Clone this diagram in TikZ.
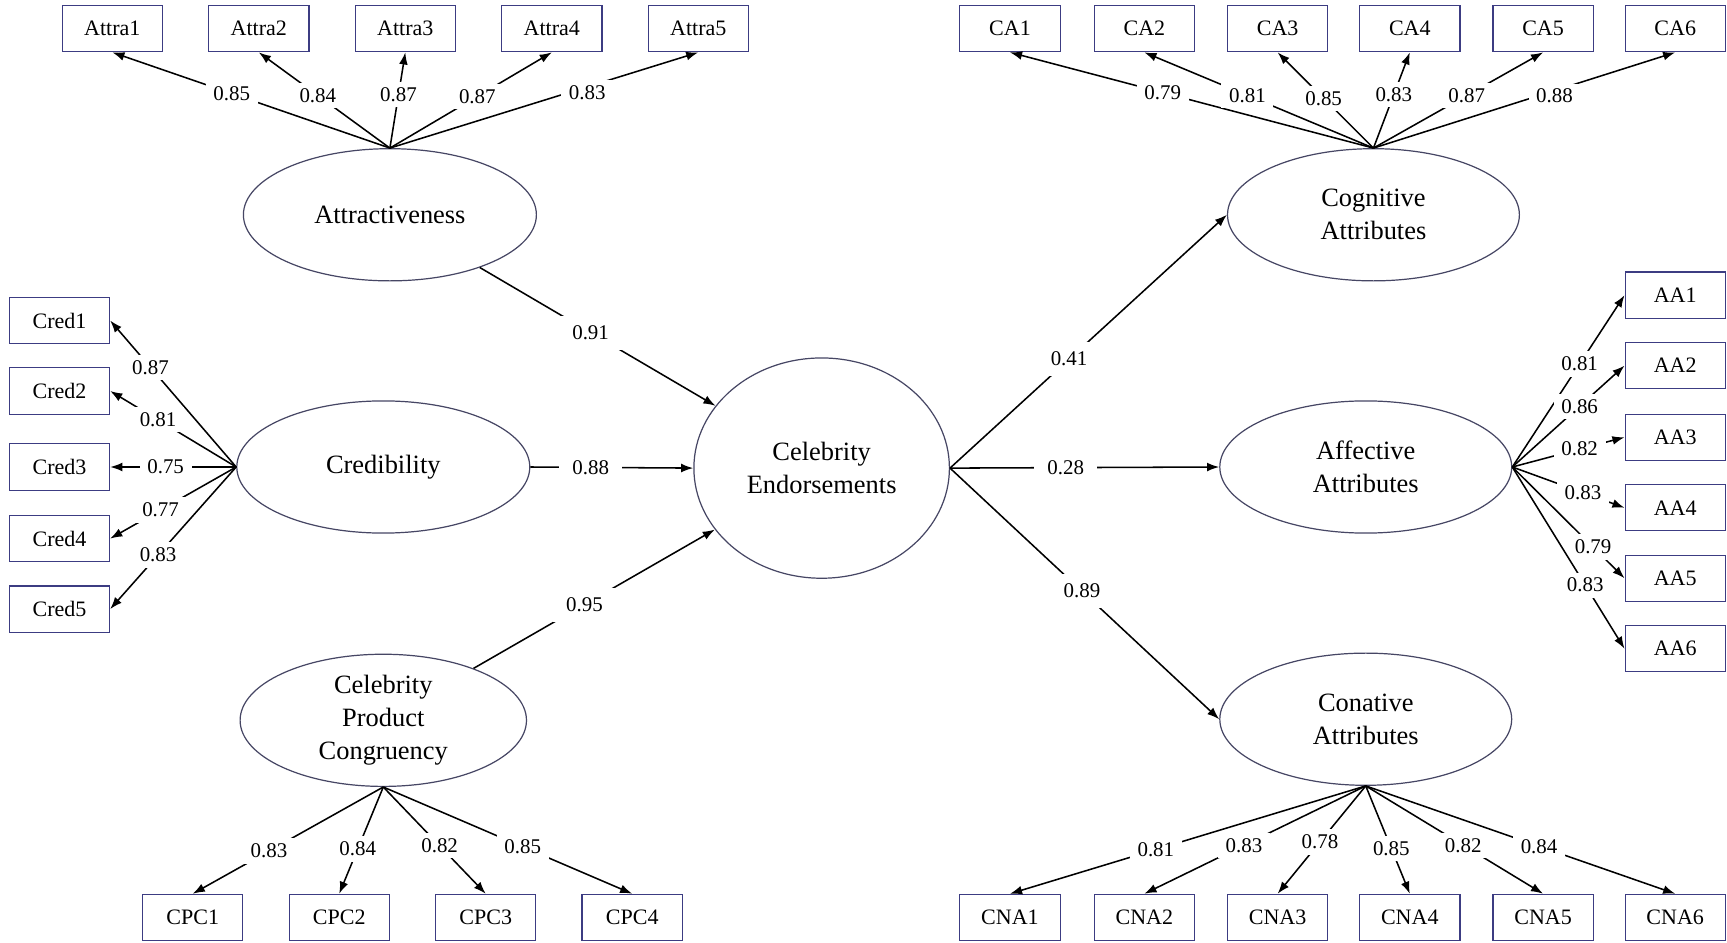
\documentclass[tikz,border=0pt]{standalone}
\usepackage{fontspec}
\setmainfont{Liberation Serif}
\usetikzlibrary{shapes.geometric,arrows.meta}
\definecolor{boxc}{RGB}{60,60,130}
\definecolor{ellc}{RGB}{70,70,100}
\begin{document}
\begin{tikzpicture}[x=1pt,y=-1pt,
 lat/.style={ellipse, draw=ellc, line width=1.1pt, inner sep=0pt, align=center, font=\fontsize{24}{30}\selectfont},
 ind/.style={rectangle, draw=boxc, line width=1.1pt, minimum width=91pt, minimum height=42pt, inner sep=0pt, font=\fontsize{20}{24}\selectfont},
 lbl/.style={fill=white, inner xsep=7pt, inner ysep=5pt, font=\fontsize{19}{22}\selectfont},
 lblw/.style={lbl, inner xsep=12pt, inner ysep=9pt},
 arr/.style={line width=1.4pt, -{Latex[length=11pt,width=8pt]}},
]
\useasboundingbox[fill=white] (0,0) rectangle (1568,856);

% latent variables
\node[lat, minimum width=266pt, minimum height=120pt] (attr) at (354,195) {Attractiveness};
\node[lat, minimum width=266pt, minimum height=120pt] (cred) at (348,424) {Credibility};
\node[lat, minimum width=260pt, minimum height=120pt] (cpc) at (348,654) {Celebrity\\Product\\Congruency};
\node[lat, minimum width=232pt, minimum height=200pt] (ce) at (746,425) {Celebrity\\Endorsements};
\node[lat, minimum width=265pt, minimum height=120pt] (cog) at (1247,195) {Cognitive\\Attributes};
\node[lat, minimum width=265pt, minimum height=120pt] (aff) at (1240,424) {Affective\\Attributes};
\node[lat, minimum width=265pt, minimum height=120pt] (con) at (1240,653) {Conative\\Attributes};

% indicators: attractiveness
\node[ind] (a1) at (102,26) {Attra1};
\node[ind] (a2) at (235,26) {Attra2};
\node[ind] (a3) at (368,26) {Attra3};
\node[ind] (a4) at (501,26) {Attra4};
\node[ind] (a5) at (634,26) {Attra5};
% cognitive
\node[ind] (ca1) at (917,26) {CA1};
\node[ind] (ca2) at (1039,26) {CA2};
\node[ind] (ca3) at (1160,26) {CA3};
\node[ind] (ca4) at (1280,26) {CA4};
\node[ind] (ca5) at (1401,26) {CA5};
\node[ind] (ca6) at (1521,26) {CA6};
% credibility
\node[ind] (c1) at (54,291) {Cred1};
\node[ind] (c2) at (54,355) {Cred2};
\node[ind] (c3) at (54,424) {Cred3};
\node[ind] (c4) at (54,489) {Cred4};
\node[ind] (c5) at (54,553) {Cred5};
% affective
\node[ind] (aa1) at (1521,268) {AA1};
\node[ind] (aa2) at (1521,332) {AA2};
\node[ind] (aa3) at (1521,397) {AA3};
\node[ind] (aa4) at (1521,461) {AA4};
\node[ind] (aa5) at (1521,525) {AA5};
\node[ind] (aa6) at (1521,589) {AA6};
% CPC
\node[ind] (p1) at (175,833) {CPC1};
\node[ind] (p2) at (308,833) {CPC2};
\node[ind] (p3) at (441,833) {CPC3};
\node[ind] (p4) at (574,833) {CPC4};
% conative
\node[ind] (n1) at (917,833) {CNA1};
\node[ind] (n2) at (1039,833) {CNA2};
\node[ind] (n3) at (1160,833) {CNA3};
\node[ind] (n4) at (1280,833) {CNA4};
\node[ind] (n5) at (1401,833) {CNA5};
\node[ind] (n6) at (1521,833) {CNA6};

% loadings: attractiveness
\draw[arr] (attr.north) -- (a1.south) node[lbl,pos=.57] {0.85};
\draw[arr] (attr.north) -- (a2.south) node[lbl,pos=.55] {0.84};
\draw[arr] (attr.north) -- (a3.south) node[lbl,pos=.56] {0.87};
\draw[arr] (attr.north) -- (a4.south) node[lbl,pos=.54] {0.87};
\draw[arr] (attr.north) -- (a5.south) node[lbl,pos=.64,yshift=-5pt] {0.83};
% cognitive
\draw[arr] (cog.north) -- (ca1.south) node[lbl,pos=.58] {0.79};
\draw[arr] (cog.north) -- (ca2.south) node[lbl,pos=.55] {0.81};
\draw[arr] (cog.north) -- (ca3.south) node[lbl,pos=.52] {0.85};
\draw[arr] (cog.north) -- (ca4.south) node[lbl,pos=.56] {0.83};
\draw[arr] (cog.north) -- (ca5.south) node[lbl,pos=.55] {0.87};
\draw[arr] (cog.north) -- (ca6.south) node[lbl,pos=.6,yshift=-5pt] {0.88};
% credibility
\draw[arr] (cred.west) -- (c1.east) node[lbl,pos=.68] {0.87};
\draw[arr] (cred.west) -- (c2.east) node[lbl,pos=.62] {0.81};
\draw[arr] (cred.west) -- (c3.east) node[lbl,pos=.56] {0.75};
\draw[arr] (cred.west) -- (c4.east) node[lbl,pos=.6] {0.77};
\draw[arr] (cred.west) -- (c5.east) node[lbl,pos=.62] {0.83};
% affective
\draw[arr] (aff.east) -- (aa1.west) node[lbl,pos=.6] {0.81};
\draw[arr] (aff.east) -- (aa2.west) node[lbl,pos=.6] {0.86};
\draw[arr] (aff.east) -- (aa3.west) node[lbl,pos=.6] {0.82};
\draw[arr] (aff.east) -- (aa4.west) node[lbl,pos=.63] {0.83};
\draw[arr] (aff.east) -- (aa5.west) node[lbl,pos=.72] {0.79};
\draw[arr] (aff.east) -- (aa6.west) node[lbl,pos=.65] {0.83};
% CPC
\draw[arr] (cpc.south) -- (p1.north) node[lbl,pos=.6] {0.83};
\draw[arr] (cpc.south) -- (p2.north) node[lbl,pos=.58] {0.84};
\draw[arr] (cpc.south) -- (p3.north) node[lbl,pos=.55] {0.82};
\draw[arr] (cpc.south) -- (p4.north) node[lbl,pos=.56] {0.85};
% conative
\draw[arr] (con.south) -- (n1.north) node[lbl,pos=.59] {0.81};
\draw[arr] (con.south) -- (n2.north) node[lbl,pos=.55] {0.83};
\draw[arr] (con.south) -- (n3.north) node[lbl,pos=.52] {0.78};
\draw[arr] (con.south) -- (n4.north) node[lbl,pos=.58] {0.85};
\draw[arr] (con.south) -- (n5.north) node[lbl,pos=.55] {0.82};
\draw[arr] (con.south) -- (n6.north) node[lbl,pos=.56] {0.84};

% structural paths
\draw[arr] (attr) -- (ce) node[lblw,pos=.47] {0.91};
\draw[arr] (cred.east) -- (ce.west) node[lblw,pos=.37] {0.88};
\draw[arr] (cpc) -- (ce) node[lblw,pos=.46] {0.95};
\draw[arr] (ce.east) -- (cog.west) node[lblw,pos=.43] {0.41};
\draw[arr] (ce.east) -- (aff.west) node[lblw,pos=.43] {0.28};
\draw[arr] (ce.east) -- (con.west) node[lblw,pos=.49] {0.89};
\end{tikzpicture}
\end{document}
